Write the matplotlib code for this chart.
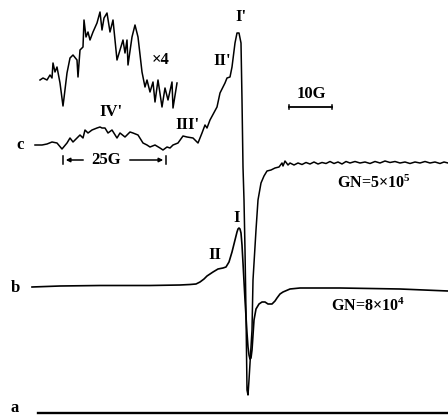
import matplotlib.pyplot as plt

plt.rcParams['font.family'] = ['Liberation Serif', 'DejaVu Serif']
plt.rcParams['font.weight'] = 'bold'
plt.rcParams['mathtext.fontset'] = 'custom'
plt.rcParams['mathtext.rm'] = 'Liberation Serif:bold'
plt.rcParams['mathtext.bf'] = 'Liberation Serif:bold'
plt.rcParams['mathtext.default'] = 'bf'

# trace c (GN=5x10^5), field position vs. signal
c_x = [35, 42, 47, 52, 57, 62, 67, 70, 73, 80, 83, 85, 88, 92, 97, 100, 102, 105, 108,
       112, 117, 120, 125, 130, 133, 138, 143, 147, 150, 155, 160, 163, 167, 170, 173,
       178, 183, 187, 193, 198, 202, 205, 207, 210, 217, 220, 225, 227, 230, 232, 235,
       237, 239, 241, 242, 243, 244, 245, 246, 247, 248, 249, 252, 253, 256, 258, 261,
       264, 267, 271, 275, 279, 282, 283, 285, 288, 290, 294,
       298, 302, 306, 310, 314, 318, 322, 326, 330, 334, 338, 342, 346, 350, 355, 360,
       365, 370, 375, 380, 385, 390, 395, 400, 405, 410, 415, 420, 425, 430, 435, 440,
       444, 448]
c_y = [145, 145, 144, 142, 143, 149, 143, 138, 142, 135, 138, 130, 133, 130, 128, 127,
       128, 128, 133, 130, 138, 133, 137, 132, 133, 135, 143, 145, 147, 145, 148, 150,
       147, 148, 145, 143, 136, 137, 138, 143, 133, 125, 128, 120, 107, 93, 83, 78, 77,
       67, 43, 33, 33, 43, 100, 167, 200, 250, 313, 390, 395, 380, 330, 280, 230, 200,
       183, 176, 171, 170, 168, 167, 163, 166, 161, 165, 163, 165,
       163, 164.5, 162.5, 164, 162, 164, 162.5, 163.5, 161.5, 163.5, 162, 164, 161.5,
       163, 161.5, 163, 162, 163.5, 161.5, 163, 161, 162.5, 161.5, 163, 162, 163.5, 162,
       163, 161.5, 163, 162, 163.5, 162, 163]

# x4 expanded part of trace c
ins_x = [40, 43, 47, 50, 52, 53, 55, 57, 60, 63, 64, 67, 70, 73, 77, 78, 80, 83, 84, 86,
         88, 90, 93, 97, 100, 102, 104, 107, 110, 113, 117, 120, 123, 125, 127, 128, 132,
         135, 138, 142, 145, 147, 150, 153, 155, 158, 162, 165, 168, 172, 173, 177]
ins_y = [80, 78, 80, 75, 78, 63, 72, 67, 83, 106, 98, 73, 58, 55, 60, 77, 50, 47, 20, 37,
         32, 40, 32, 23, 12, 30, 18, 13, 32, 20, 60, 50, 40, 53, 40, 65, 37, 25, 37, 72,
         87, 80, 92, 82, 102, 80, 107, 88, 100, 82, 108, 83]

# trace b (GN=8x10^4)
b_x = [32, 60, 100, 150, 180, 190, 196, 200, 204, 207, 210, 213, 218, 223, 226, 229, 232,
       235, 237, 238, 239, 240, 241, 242, 243, 245, 247, 248, 249, 250, 251, 252, 253,
       254, 256, 259, 262, 265, 268, 272, 275, 277, 280, 283, 290, 300, 340, 400, 448]
b_y = [287, 286, 285.5, 285.5, 285, 284.5, 284, 282, 279, 276, 274, 272, 269, 268, 267,
       262, 252, 240, 232, 229, 228, 229, 233, 245, 263, 300, 333, 347, 355, 359, 358,
       350, 335, 320, 309, 304, 302, 302, 304, 304, 301, 298, 294, 292, 289, 288, 288,
       289, 291]

# trace a (no signal)
a_x = [38, 448]
a_y = [413, 413]

fig = plt.figure(figsize=(4.48, 4.16), dpi=100)
ax = fig.add_axes([0, 0, 1, 1])
ax.set_xlim(0, 448)
ax.set_ylim(416, 0)
ax.axis('off')

ax.plot(c_x, c_y, color='black', lw=1.1)
ax.plot(ins_x, ins_y, color='black', lw=1.1)
ax.plot(b_x, b_y, color='black', lw=1.2)
ax.plot(a_x, a_y, color='black', lw=1.7)

fs = 12
ax.text(20, 145, 'c', fontsize=fs, ha='center', va='center')
ax.text(15, 288, 'b', fontsize=fs, ha='center', va='center')
ax.text(15, 408, 'a', fontsize=fs, ha='center', va='center')

ax.text(161, 60, '×4', fontsize=fs, ha='center', va='center')
ax.text(111, 112, "IV'", fontsize=fs, ha='center', va='center')
ax.text(187, 125, "III'", fontsize=fs, ha='center', va='center')
ax.text(222, 61, "II'", fontsize=fs, ha='center', va='center')
ax.text(241, 17, "I'", fontsize=fs, ha='center', va='center')
ax.text(237, 218, 'I', fontsize=fs, ha='center', va='center')
ax.text(215, 255, 'II', fontsize=fs, ha='center', va='center')

ax.text(374, 183, 'GN=5×10$^5$', fontsize=11.5, ha='center', va='center')
ax.text(368, 306, 'GN=8×10$^4$', fontsize=11.5, ha='center', va='center')

# 25G marker
ax.text(106, 160, '25G', fontsize=fs, ha='center', va='center')
ax.annotate('', xy=(63, 160), xytext=(86, 160),
            arrowprops=dict(arrowstyle='-|>', color='black', lw=1.1, mutation_scale=6))
ax.annotate('', xy=(166, 160), xytext=(127, 160),
            arrowprops=dict(arrowstyle='-|>', color='black', lw=1.1, mutation_scale=6))
ax.plot([63, 63], [156, 164], color='black', lw=1.1)
ax.plot([166, 166], [156, 164], color='black', lw=1.1)

# 10G scale bar
ax.text(311, 94, '10G', fontsize=fs, ha='center', va='center')
ax.plot([289, 332], [107, 107], color='black', lw=1.3)
ax.plot([289, 289], [105, 109], color='black', lw=1.1)
ax.plot([332, 332], [105, 109], color='black', lw=1.1)

fig.savefig('out.png', dpi=100)
